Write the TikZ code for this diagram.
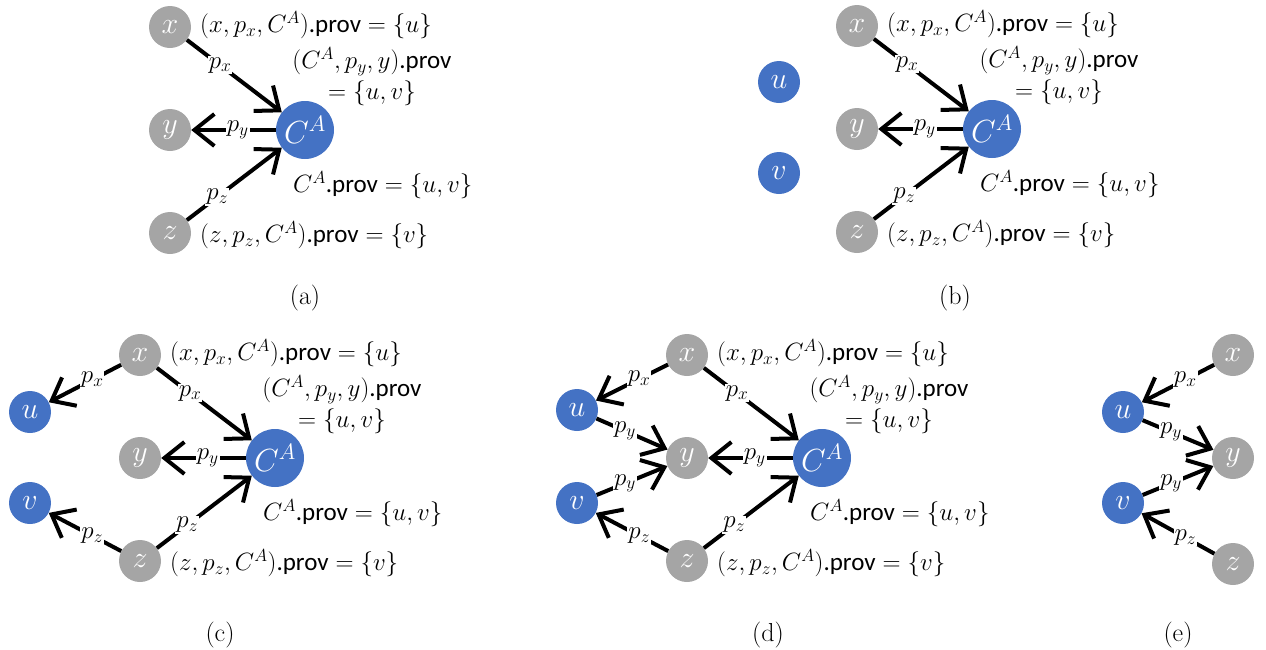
\RequirePackage{fix-cm}
\documentclass[tikz,border=0pt]{standalone}
\usepackage{fontspec}
\usepackage{amsmath}
\usetikzlibrary{arrows.meta, positioning}
\newfontfamily\provfont{Carlito}
\definecolor{nodeGray}{HTML}{A5A5A5}
\definecolor{nodeBlue}{HTML}{4472C4}
\newcommand{\prov}{\mbox{\provfont .prov}}

\begin{document}
\begin{tikzpicture}[x=1pt, y=-1pt,
    gnode/.style={circle, fill=nodeGray, text=white, minimum size=42pt,
                  inner sep=0pt, font=\fontsize{30}{30}\selectfont},
    bnode/.style={gnode, fill=nodeBlue},
    cnode/.style={bnode, minimum size=58pt, font=\fontsize{32}{32}\selectfont},
    elab/.style={fill=white, inner sep=1pt, font=\fontsize{25}{26}\selectfont},
    plab/.style={inner sep=0pt, font=\fontsize{25}{28}\selectfont},
    arr/.style={-{Straight Barb[length=20pt, width=32pt]}, line width=4pt},
    subcap/.style={font=\fontsize{26}{28}\selectfont},
  ]
  \useasboundingbox (0,0) rectangle (1266,649);

  % common part: x, y, z and C^A
  \foreach \p/\dx/\dy in {a/0/0, b/687/-1, c/-30/328, d/517/328}{
    \begin{scope}[shift={(\dx,\dy)}]
      \node[gnode] (x\p) at (170,27) {$x$};
      \node[gnode] (y\p) at (170,130) {$y$};
      \node[gnode] (z\p) at (170,233) {$z$};
      \node[cnode] (C\p) at (305,130) {$C^A$};

      \draw[arr] (x\p) -- node[elab, pos=0.35] {$p_x$} (C\p);
      \draw[arr] (C\p) -- node[elab, pos=0.45] {$p_y$} (y\p);
      \draw[arr] (z\p) -- node[elab, pos=0.32] {$p_z$} (C\p);

      \node[plab, anchor=west] (lx\p) at (200,25) {$(x,p_x,C^A)\prov=\{u\}$};
      \node[plab, align=center] (ly\p) at (372,77) {$(C^A,p_y,y)\prov$\\[3pt]$=\{u,v\}$};
      \node[plab, anchor=west] (lc\p) at (293,185) {$C^A\prov=\{u,v\}$};
      \node[plab, anchor=west] (lz\p) at (200,235) {$(z,p_z,C^A)\prov=\{v\}$};
    \end{scope}
  }

  % (b)
  \node[bnode] (ub) at (779,82) {$u$};
  \node[bnode] (vb) at (779,173) {$v$};

  % (c)
  \node[bnode] (uc) at (30,412) {$u$};
  \node[bnode] (vc) at (30,503) {$v$};
  \draw[arr] (xc) -- node[elab, pos=0.4] {$p_x$} (uc);
  \draw[arr] (zc) -- node[elab, pos=0.4] {$p_z$} (vc);

  % (d)
  \node[bnode] (ud) at (577,410) {$u$};
  \node[bnode] (vd) at (577,503) {$v$};
  \draw[arr] (xd) -- node[elab, pos=0.4] {$p_x$} (ud);
  \draw[arr] (ud) -- node[elab, pos=0.4] {$p_y$} (yd);
  \draw[arr] (vd) -- node[elab, pos=0.4] {$p_y$} (yd);
  \draw[arr] (zd) -- node[elab, pos=0.4] {$p_z$} (vd);

  % (e)
  \node[gnode] (xe) at (1233,355) {$x$};
  \node[gnode] (ye) at (1233,458) {$y$};
  \node[gnode] (ze) at (1233,564) {$z$};
  \node[bnode] (ue) at (1123,412) {$u$};
  \node[bnode] (ve) at (1123,503) {$v$};
  \draw[arr] (xe) -- node[elab, pos=0.4] {$p_x$} (ue);
  \draw[arr] (ue) -- node[elab, pos=0.4] {$p_y$} (ye);
  \draw[arr] (ve) -- node[elab, pos=0.4] {$p_y$} (ye);
  \draw[arr] (ze) -- node[elab, pos=0.4] {$p_z$} (ve);

  % captions
  \node[subcap] (capa) at (305,298) {(a)};
  \node[subcap] (capb) at (955,298) {(b)};
  \node[subcap] (capc) at (220,635) {(c)};
  \node[subcap] (capd) at (768,635) {(d)};
  \node[subcap] (cape) at (1178,635) {(e)};
\end{tikzpicture}
\end{document}
